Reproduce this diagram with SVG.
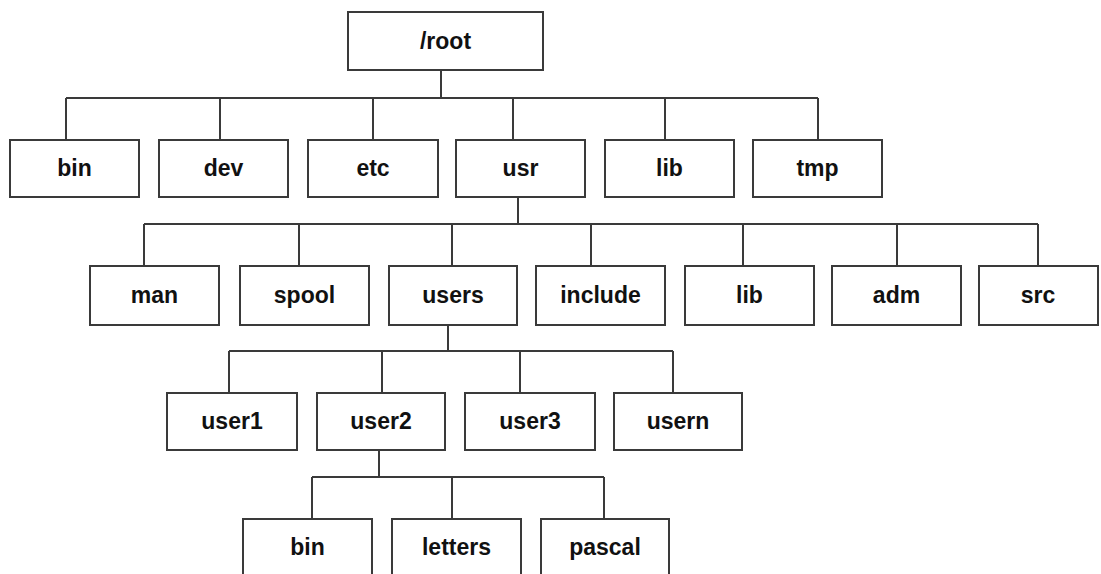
<svg xmlns="http://www.w3.org/2000/svg" width="1101" height="574" viewBox="0 0 1101 574">
<style>
.box{fill:#fff;stroke:#3a3a3a;stroke-width:2}
.lbl{font-family:"Liberation Sans",Arial,sans-serif;font-weight:bold;font-size:23px;fill:#111;text-anchor:middle}
.con{fill:none;stroke:#3a3a3a;stroke-width:2}
</style>
<rect width="1101" height="574" fill="#fff"/>
<g id="connectors" class="con">
<path d="M441 70V98M66 98H818M66 98V140M220 98V140M373 98V140M513 98V140M665 98V140M818 98V140"/>
<path d="M518 197V224M144 224H1038M144 224V266M299 224V266M452 224V266M591 224V266M743 224V266M897 224V266M1038 224V266"/>
<path d="M448 325V351M229 351H673M229 351V393M382 351V393M520 351V393M673 351V393"/>
<path d="M379 450V477M312 477H604M312 477V519M452 477V519M604 477V519"/>
</g>
<g id="root"><rect class="box" x="348" y="12" width="195" height="58"/><text class="lbl" x="445.5" y="49">/root</text></g>
<g id="bin"><rect class="box" x="10" y="140" width="129" height="57"/><text class="lbl" x="74.5" y="176">bin</text></g>
<g id="dev"><rect class="box" x="159" y="140" width="129" height="57"/><text class="lbl" x="223.5" y="176">dev</text></g>
<g id="etc"><rect class="box" x="308" y="140" width="130" height="57"/><text class="lbl" x="373" y="176">etc</text></g>
<g id="usr"><rect class="box" x="456" y="140" width="129" height="57"/><text class="lbl" x="520.5" y="176">usr</text></g>
<g id="lib"><rect class="box" x="605" y="140" width="129" height="57"/><text class="lbl" x="669.5" y="176">lib</text></g>
<g id="tmp"><rect class="box" x="753" y="140" width="129" height="57"/><text class="lbl" x="817.5" y="176">tmp</text></g>
<g id="man"><rect class="box" x="90" y="266" width="129" height="59"/><text class="lbl" x="154.5" y="303">man</text></g>
<g id="spool"><rect class="box" x="240" y="266" width="129" height="59"/><text class="lbl" x="304.5" y="303">spool</text></g>
<g id="users"><rect class="box" x="389" y="266" width="128" height="59"/><text class="lbl" x="453" y="303">users</text></g>
<g id="include"><rect class="box" x="536" y="266" width="129" height="59"/><text class="lbl" x="600.5" y="303">include</text></g>
<g id="usr-lib"><rect class="box" x="685" y="266" width="129" height="59"/><text class="lbl" x="749.5" y="303">lib</text></g>
<g id="adm"><rect class="box" x="832" y="266" width="129" height="59"/><text class="lbl" x="896.5" y="303">adm</text></g>
<g id="src"><rect class="box" x="979" y="266" width="119" height="59"/><text class="lbl" x="1038" y="303">src</text></g>
<g id="user1"><rect class="box" x="167" y="393" width="130" height="57"/><text class="lbl" x="232" y="429">user1</text></g>
<g id="user2"><rect class="box" x="317" y="393" width="128" height="57"/><text class="lbl" x="381" y="429">user2</text></g>
<g id="user3"><rect class="box" x="465" y="393" width="130" height="57"/><text class="lbl" x="530" y="429">user3</text></g>
<g id="usern"><rect class="box" x="614" y="393" width="128" height="57"/><text class="lbl" x="678" y="429">usern</text></g>
<g id="u2-bin"><rect class="box" x="243" y="519" width="129" height="58"/><text class="lbl" x="307.5" y="555">bin</text></g>
<g id="letters"><rect class="box" x="392" y="519" width="129" height="58"/><text class="lbl" x="456.5" y="555">letters</text></g>
<g id="pascal"><rect class="box" x="541" y="519" width="128" height="58"/><text class="lbl" x="605" y="555">pascal</text></g>
</svg>
